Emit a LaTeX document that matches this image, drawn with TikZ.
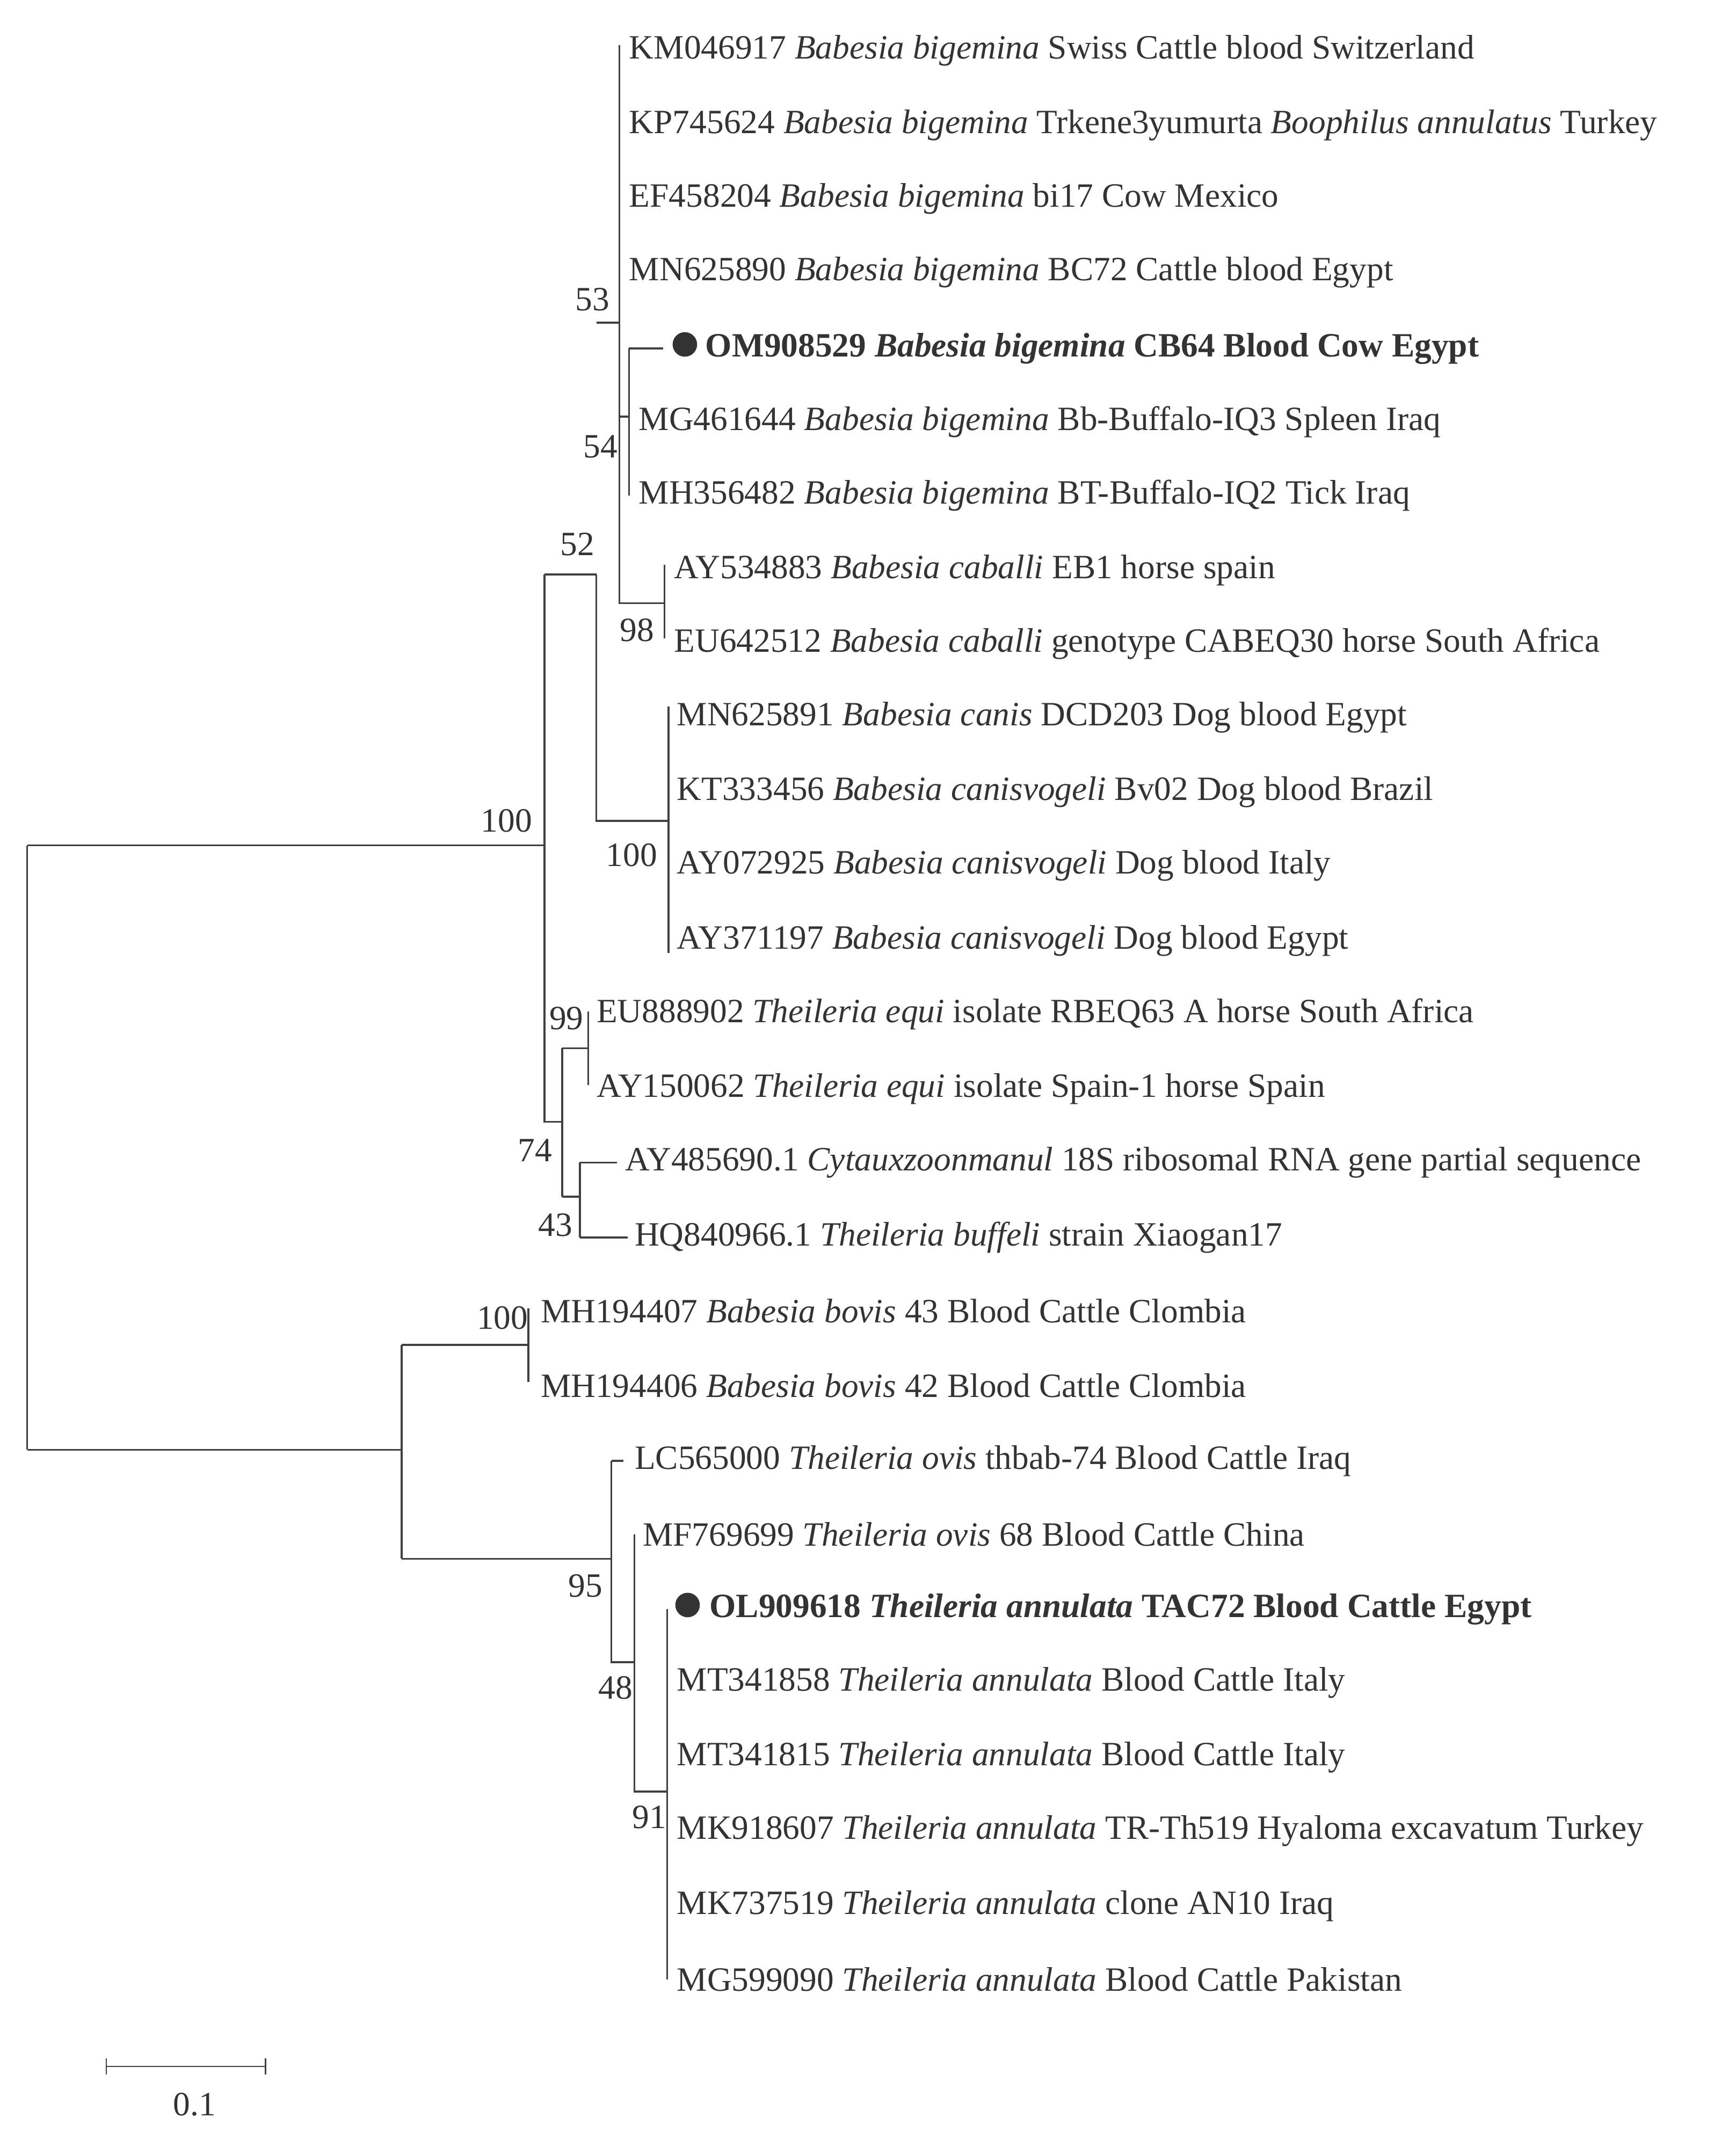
\documentclass[tikz,border=0pt]{standalone}
\usepackage{fontspec}
\setmainfont{Liberation Serif}
\usetikzlibrary{calc}
\begin{document}
\begin{tikzpicture}[x=1pt,y=-1pt,
  br/.style={draw=black!75,line width=1.4pt},
  leaf/.style={anchor=west,inner sep=0pt,text=black!80,font=\fontsize{25}{28}\selectfont},
  bs/.style={text=black!80,font=\fontsize{25}{28}\selectfont,inner sep=0pt}]
\useasboundingbox (0,0) rectangle (1275,1572);
% leaves
\node[leaf] (l0) at (462,37) {KM046917 \textit{Babesia bigemina} Swiss Cattle blood Switzerland};
\node[leaf] (l1) at (462,92) {KP745624 \textit{Babesia bigemina} Trkene3yumurta \textit{Boophilus annulatus} Turkey};
\node[leaf] (l2) at (462,146) {EF458204 \textit{Babesia bigemina} bi17 Cow Mexico};
\node[leaf] (l3) at (462,200) {MN625890 \textit{Babesia bigemina} BC72 Cattle blood Egypt};
\node[leaf] (l4) at (518,256) {\textbf{OM908529 \textit{Babesia bigemina} CB64 Blood Cow Egypt}};
\node[leaf] (l5) at (469,310) {MG461644 \textit{Babesia bigemina} Bb-Buffalo-IQ3 Spleen Iraq};
\node[leaf] (l6) at (469,364) {MH356482 \textit{Babesia bigemina} BT-Buffalo-IQ2 Tick Iraq};
\node[leaf] (l7) at (495,419) {AY534883 \textit{Babesia caballi} EB1 horse spain};
\node[leaf] (l8) at (495,473) {EU642512 \textit{Babesia caballi} genotype CABEQ30 horse South Africa};
\node[leaf] (l9) at (497,527) {MN625891 \textit{Babesia canis} DCD203 Dog blood Egypt};
\node[leaf] (l10) at (497,582) {KT333456 \textit{Babesia canisvogeli} Bv02 Dog blood Brazil};
\node[leaf] (l11) at (497,636) {AY072925 \textit{Babesia canisvogeli} Dog blood Italy};
\node[leaf] (l12) at (497,691) {AY371197 \textit{Babesia canisvogeli} Dog blood Egypt};
\node[leaf] (l13) at (438,745) {EU888902 \textit{Theileria equi} isolate RBEQ63 A horse South Africa};
\node[leaf] (l14) at (438,800) {AY150062 \textit{Theileria equi} isolate Spain-1 horse Spain};
\node[leaf] (l15) at (459,854) {AY485690.1 \textit{Cytauxzoonmanul} 18S ribosomal RNA gene partial sequence};
\node[leaf] (l16) at (466,909) {HQ840966.1 \textit{Theileria buffeli} strain Xiaogan17};
\node[leaf] (l17) at (397,963) {MH194407 \textit{Babesia bovis} 43 Blood Cattle Clombia};
\node[leaf] (l18) at (397,1018) {MH194406 \textit{Babesia bovis} 42 Blood Cattle Clombia};
\node[leaf] (l19) at (466,1073) {LC565000 \textit{Theileria ovis} thbab-74 Blood Cattle Iraq};
\node[leaf] (l20) at (472,1127) {MF769699 \textit{Theileria ovis} 68 Blood Cattle China};
\node[leaf] (l21) at (521,1182) {\textbf{OL909618 \textit{Theileria annulata} TAC72 Blood Cattle Egypt}};
\node[leaf] (l22) at (497,1236) {MT341858 \textit{Theileria annulata} Blood Cattle Italy};
\node[leaf] (l23) at (497,1291) {MT341815 \textit{Theileria annulata} Blood Cattle Italy};
\node[leaf] (l24) at (497,1345) {MK918607 \textit{Theileria annulata} TR-Th519 Hyaloma excavatum Turkey};
\node[leaf] (l25) at (497,1400) {MK737519 \textit{Theileria annulata} clone AN10 Iraq};
\node[leaf] (l26) at (497,1454) {MG599090 \textit{Theileria annulata} Blood Cattle Pakistan};
\fill[black!80] (503,253) circle (9pt);
\fill[black!80] (505,1179) circle (9pt);
% internal coordinates
\coordinate (r) at (20,621);
\coordinate (A) at (400,621);
\coordinate (B) at (438,422);
\coordinate (C) at (455,237);
\coordinate (D) at (462,306);
\coordinate (E) at (488,443);
\coordinate (K) at (491,603);
\coordinate (T) at (413,824);
\coordinate (Q) at (432,770);
\coordinate (F) at (426,879);
\coordinate (G) at (295,1065);
\coordinate (V) at (388,988);
\coordinate (P) at (449,1145);
\coordinate (H) at (466,1221);
\coordinate (N) at (490,1316);
% branches
\draw[br] (r|-A) -- (r|-G);
\draw[br] (r|-A) -- (A);
\draw[br] (r|-G) -- (G);
\draw[br] (A|-B) -- (A|-T) -- (T);
\draw[br] (A|-B) -- (B);
\draw[br] (B) -- (B|-K) -- (K);
\draw[br] (B|-C) -- (C);
\draw[br] ($(C|-l0.west)+(0,-4)$) -- (C|-E) -- (E);
\draw[br] (C|-D) -- (D);
\draw[br] (D|-l4) -- (D|-l6);
\draw[br] (D|-l4) -- (487,256);
\draw[br] ($(E|-l7)+(0,-4)$) -- ($(E|-l8)+(0,-4)$);
\draw[br] ($(K|-l9)+(0,-8)$) -- ($(K|-l12)+(0,9)$);
\draw[br] (T|-Q) -- (T|-F);
\draw[br] (T|-Q) -- (Q);
\draw[br] ($(Q|-l13)+(0,-2)$) -- ($(Q|-l14)+(0,-3)$);
\draw[br] (T|-F) -- (F);
\draw[br] (F|-l15) -- (F|-l16);
\draw[br] (F|-l15) -- (453,854);
\draw[br] (F|-l16) -- (461,909);
\draw[br] (G|-V) -- (G|-P);
\draw[br] (G|-V) -- (V);
\draw[br] ($(V|-l17)+(0,-2)$) -- ($(V|-l18)+(0,-3)$);
\draw[br] (G|-P) -- (P);
\draw[br] (P|-l19) -- (P|-H) -- (H);
\draw[br] (P|-l19) -- (458,1073);
\draw[br] (H|-l20) -- (H|-N) -- (N);
\draw[br] (N|-l21) -- (N|-l26);
% bootstrap labels
\node[bs] at (372,603) {100};
\node[bs] at (424,400) {52};
\node[bs] at (435,220) {53};
\node[bs] at (441,328) {54};
\node[bs] at (468,463) {98};
\node[bs] at (464,628) {100};
\node[bs] at (416,748) {99};
\node[bs] at (393,845) {74};
\node[bs] at (408,900) {43};
\node[bs] at (369,968) {100};
\node[bs] at (430,1165) {95};
\node[bs] at (452,1240) {48};
\node[bs] at (477,1335) {91};
% scale bar
\coordinate (s1) at (78,1518);
\coordinate (s2) at (195,1518);
\draw[br,line width=1pt] (s1) -- (s2);
\draw[br,line width=1pt] ($(s1)+(0,-6)$) -- ($(s1)+(0,6)$);
\draw[br,line width=1pt] ($(s2)+(0,-6)$) -- ($(s2)+(0,6)$);
\node[bs] at (143,1546) {0.1};
\end{tikzpicture}
\end{document}
